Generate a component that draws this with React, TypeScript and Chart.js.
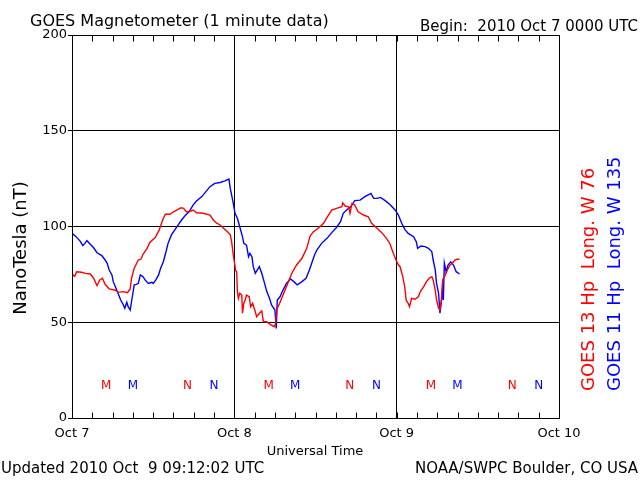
import { useEffect, useRef } from "react";
import { Chart, registerables } from "chart.js";

Chart.register(...registerables);

// Hours since 2010 Oct 7 00:00 UTC
const g13Hours = [0, 0.4, 0.7, 1.4, 2.0, 2.7, 3.2, 3.7, 4.1, 4.5, 4.9, 5.5, 6.4, 6.8, 7.6, 8.2, 8.6, 8.8, 9.2, 9.8, 10.2, 10.5, 11.1, 11.5, 12.3, 12.9, 13.4, 13.8, 14.5, 15.0, 15.5, 16.1, 16.5, 16.9, 17.3, 17.9, 18.4, 19.4, 20.4, 20.9, 21.4, 21.9, 22.4, 23.0, 23.4, 23.6, 23.85, 24.0, 24.2, 24.35, 24.45, 24.6, 24.8, 25.1, 25.2, 25.4, 25.6, 25.8, 26.2, 26.4, 26.7, 27.1, 27.3, 27.7, 28.05, 28.3, 28.8, 29.3, 29.9, 30.1, 30.3, 30.7, 31.2, 31.8, 32.5, 33.2, 34.0, 34.7, 35.2, 35.7, 36.4, 37.2, 37.7, 38.4, 39.1, 39.9, 40.0, 40.4, 40.9, 41.1, 41.4, 41.8, 42.3, 43.1, 43.8, 44.3, 45.1, 45.8, 46.5, 47.0, 47.5, 47.9, 48.25, 48.5, 48.9, 49.2, 49.4, 49.7, 49.9, 50.2, 50.7, 51.2, 51.5, 52.0, 52.4, 52.8, 53.2, 53.4, 53.7, 53.9, 54.2, 54.4, 54.6, 54.8, 55.2, 55.5, 55.9, 56.3, 56.6, 56.9, 57.3];
const g13Values = [75.2, 74, 76.4, 76.1, 75.5, 75.2, 73, 69.1, 72.1, 73, 69.8, 67.4, 66.7, 65.6, 66, 65.4, 67.4, 73, 78.2, 82.5, 83, 85.5, 88.6, 91.7, 94.2, 98.2, 103.4, 106.4, 106.4, 107.7, 108.6, 109.8, 109.5, 107.7, 107.7, 108.6, 107.2, 106.9, 106, 103.4, 101.7, 100.8, 99.1, 97.3, 95.7, 92.1, 85.1, 81.6, 77, 76.4, 66, 62.5, 65.1, 64.2, 54.7, 60, 61.6, 64.2, 63.3, 58.1, 59.9, 55.5, 52.9, 54.7, 55.9, 50.3, 50.3, 48.9, 47.7, 49.4, 56.9, 59.9, 64.2, 69.5, 75.6, 79.9, 83.4, 88.6, 95, 97.3, 99.1, 101.7, 104.8, 108.6, 109.5, 110.3, 112.4, 110.7, 110.3, 106.9, 112.1, 111.2, 107.7, 106, 105.1, 101.7, 99.1, 96.8, 93.8, 91, 86, 82.5, 80, 79, 73.8, 68.2, 61.6, 59.9, 58.1, 62.5, 62, 63.3, 66, 68.6, 71.2, 73, 73.8, 72.1, 66.8, 61.6, 57.3, 56.4, 61.6, 72.1, 74.7, 77.3, 79.9, 81.1, 82.5, 82.9, 82.9];

const g11Hours = [0, 0.6, 1.2, 1.6, 1.9, 2.2, 2.7, 3.2, 3.7, 4.4, 4.9, 5.2, 5.5, 5.9, 6.1, 6.5, 6.8, 7.2, 7.6, 7.8, 8.1, 8.3, 8.6, 8.8, 9.2, 9.5, 9.8, 10.1, 10.5, 10.8, 11.3, 11.8, 12.0, 12.4, 12.8, 13.1, 13.5, 13.9, 14.2, 14.7, 15.2, 15.7, 16.2, 16.7, 17.3, 17.9, 18.4, 19.2, 19.8, 20.4, 21.1, 21.9, 22.6, 23.2, 23.4, 23.6, 23.8, 24.1, 24.45, 24.8, 25.2, 25.4, 25.8, 26.1, 26.3, 26.6, 26.8, 27.1, 27.4, 27.7, 28.05, 28.4, 28.8, 29.2, 29.5, 30.0, 30.2, 30.35, 30.75, 31.2, 31.7, 32.3, 32.8, 33.3, 34.0, 34.6, 35.1, 35.6, 35.9, 36.2, 36.9, 37.7, 38.4, 39.1, 39.7, 40.1, 40.6, 41.2, 41.8, 42.6, 43.3, 44.2, 44.6, 45.1, 45.6, 46.3, 47.0, 47.8, 48.25, 48.75, 49.2, 49.7, 50.5, 50.9, 51.1, 51.6, 52.2, 52.7, 53.2, 53.4, 53.7, 53.9, 54.2, 54.4, 54.7, 54.8, 54.9, 55.05, 55.3, 55.6, 56.0, 56.4, 56.8, 57.3];
const g11Values = [96.4, 94.7, 92.4, 90, 91.2, 92.6, 90.7, 88.9, 86.3, 84.8, 82.5, 80.8, 77.3, 74.7, 71.2, 67.7, 65.1, 61.6, 59, 57.3, 60.4, 58.1, 56.4, 60.7, 69.5, 69.8, 70.3, 74.7, 73.8, 72.1, 70.3, 70.9, 70.3, 72.1, 74.7, 78.2, 81.6, 86.8, 91.2, 95.6, 98.2, 100.8, 103.4, 105.6, 107.7, 111.2, 113.3, 115.6, 118.2, 120.8, 122.5, 123, 123.8, 124.8, 119.9, 116.4, 113, 106.9, 104.3, 99.9, 94.7, 91.2, 90.3, 84.2, 86, 84.2, 79, 75.6, 77.3, 79, 75.6, 71.2, 66, 62.5, 59, 56.4, 46.8, 61.6, 63.3, 66.8, 70.3, 72.6, 71.2, 69.5, 71.2, 73, 77.3, 82.5, 85.5, 87.7, 91.2, 93.8, 96.8, 99.5, 102.5, 106.9, 108.6, 110.3, 113.5, 113.8, 115.6, 117.3, 114.7, 114.7, 115.2, 113.5, 111.5, 108.5, 106, 101.7, 98.5, 96.4, 94.7, 92.1, 88.6, 89.8, 89.5, 88.6, 86.8, 82.5, 77.3, 70.3, 65.1, 54.7, 63.3, 68.6, 61.6, 80.8, 76.4, 79.9, 81.6, 79.9, 76.4, 75.2];

const xTickLabels = ["Oct 7", "Oct 8", "Oct 9", "Oct 10"];
const xMax = 72;
const xStep = 3;
const yMax = 200;
const yStep = 50;

// Local midnight (M) and noon (N) markers, hours UT
const markerLevel = 17;
const g13Midnight = [5.07, 29.07, 53.07];
const g13Noon = [17.07, 41.07, 65.07];
const g11Midnight = [9, 33, 57];
const g11Noon = [21, 45, 69];

const RED = "#ff0000";
const BLUE = "#0000ff";
const FONT = '"DejaVu Sans", sans-serif';

const toPoints = (hs: number[], vs: number[]) => hs.map((h, i) => ({ x: h, y: vs[i] }));

const decorPlugin = {
  id: "decor",
  afterDraw(chart: any) {
    const { ctx, chartArea: a, scales } = chart;
    const xs = scales.x;
    const ys = scales.y;
    ctx.save();
    ctx.strokeStyle = "#000";
    ctx.lineWidth = 1;
    const L = Math.round(a.left) + 0.5;
    const R = Math.round(a.right) + 0.5;
    const T = Math.round(a.top) + 0.5;
    const B = Math.round(a.bottom) + 0.5;
    ctx.beginPath();
    ctx.moveTo(L, T);
    ctx.lineTo(R, T);
    ctx.lineTo(R, B);
    ctx.lineTo(L, B);
    ctx.closePath();
    // inner minor ticks on top and bottom
    xs.ticks.forEach((t: any) => {
      const px = Math.round(xs.getPixelForValue(t.value)) + 0.5;
      ctx.moveTo(px, T);
      ctx.lineTo(px, T + 6);
      ctx.moveTo(px, B);
      ctx.lineTo(px, B - 6);
    });
    ctx.stroke();

    // M / N markers
    ctx.font = "12px " + FONT;
    ctx.textAlign = "center";
    ctx.textBaseline = "middle";
    const my = ys.getPixelForValue(markerLevel);
    const drawMarks = (hours: number[], txt: string, color: string) => {
      ctx.fillStyle = color;
      hours.forEach((h) => ctx.fillText(txt, xs.getPixelForValue(h), my));
    };
    drawMarks(g13Midnight, "M", RED);
    drawMarks(g11Midnight, "M", BLUE);
    drawMarks(g13Noon, "N", RED);
    drawMarks(g11Noon, "N", BLUE);

    // Texts
    ctx.textBaseline = "alphabetic";
    ctx.fillStyle = "#000";
    ctx.textAlign = "left";
    ctx.font = "16px " + FONT;
    ctx.fillText("GOES Magnetometer (1 minute data)", 30, 26);
    ctx.textAlign = "right";
    ctx.font = "15px " + FONT;
    ctx.fillText("Begin:  2010 Oct 7 0000 UTC", 638, 31);
    ctx.textAlign = "center";
    ctx.font = "13px " + FONT;
    ctx.fillText("Universal Time", 315, 455);
    ctx.textAlign = "left";
    ctx.font = "15px " + FONT;
    ctx.fillText("Updated 2010 Oct  9 09:12:02 UTC", 1, 473);
    ctx.textAlign = "right";
    ctx.fillText("NOAA/SWPC Boulder, CO USA", 638, 473);

    // Rotated texts
    ctx.font = "18px " + FONT;
    ctx.textAlign = "center";
    ctx.textBaseline = "middle";
    ctx.save();
    ctx.translate(21, 248);
    ctx.rotate(-Math.PI / 2);
    ctx.fillText("NanoTesla (nT)", 0, 0);
    ctx.restore();

    ctx.textAlign = "left";
    ctx.save();
    ctx.translate(589, 391);
    ctx.rotate(-Math.PI / 2);
    ctx.fillStyle = RED;
    ctx.fillText("GOES 13 Hp  Long. W 76", 0, 0);
    ctx.restore();
    ctx.save();
    ctx.translate(615, 391);
    ctx.rotate(-Math.PI / 2);
    ctx.fillStyle = BLUE;
    ctx.fillText("GOES 11 Hp  Long. W 135", 0, 0);
    ctx.restore();

    ctx.restore();
  },
};

export default function App() {
  const canvasRef = useRef<HTMLCanvasElement | null>(null);

  useEffect(() => {
    const canvas = canvasRef.current;
    if (!canvas) return;
    const chart = new Chart(canvas, {
      type: "line",
      data: {
        datasets: [
          {
            label: "GOES 13",
            data: toPoints(g13Hours, g13Values),
            borderColor: RED,
            borderWidth: 1.4,
            pointRadius: 0,
            tension: 0,
            fill: false,
          },
          {
            label: "GOES 11",
            data: toPoints(g11Hours, g11Values),
            borderColor: BLUE,
            borderWidth: 1.4,
            pointRadius: 0,
            tension: 0,
            fill: false,
          },
        ],
      },
      options: {
        responsive: false,
        animation: false,
        devicePixelRatio: 1,
        layout: { padding: { top: 35, right: 81, left: 0, bottom: 0 } },
        plugins: {
          legend: { display: false },
          tooltip: { enabled: false },
          title: { display: false },
        },
        scales: {
          x: {
            type: "linear",
            min: 0,
            max: xMax,
            offset: false,
            afterFit: (s: any) => {
              s.height = 62;
            },
            border: { display: false },
            grid: {
              drawTicks: false,
              lineWidth: 1,
              color: (c: any) => {
                const v = c.tick ? c.tick.value : 0;
                return v % 24 === 0 && v !== 0 && v !== xMax ? "#000" : "rgba(0,0,0,0)";
              },
            },
            ticks: {
              stepSize: xStep,
              autoSkip: false,
              maxRotation: 0,
              padding: 8,
              color: "#000",
              font: { family: FONT, size: 13 },
              callback: (v: any) => (Number(v) % 24 === 0 ? xTickLabels[Number(v) / 24] : ""),
            },
          },
          y: {
            min: 0,
            max: yMax,
            afterFit: (s: any) => {
              s.width = 72;
            },
            border: { display: false },
            grid: {
              drawTicks: true,
              tickLength: 4,
              tickColor: "#000",
              lineWidth: 1,
              color: "#000",
            },
            ticks: {
              stepSize: yStep,
              padding: 1,
              color: "#000",
              font: { family: FONT, size: 13 },
            },
          },
        },
      },
      plugins: [decorPlugin],
    } as any);
    return () => chart.destroy();
  }, []);

  return (
    <div style={{ position: "absolute", left: 0, top: 0, width: 640, height: 480, background: "#fff" }}>
      <canvas ref={canvasRef} width={640} height={480} style={{ display: "block" }} />
    </div>
  );
}
